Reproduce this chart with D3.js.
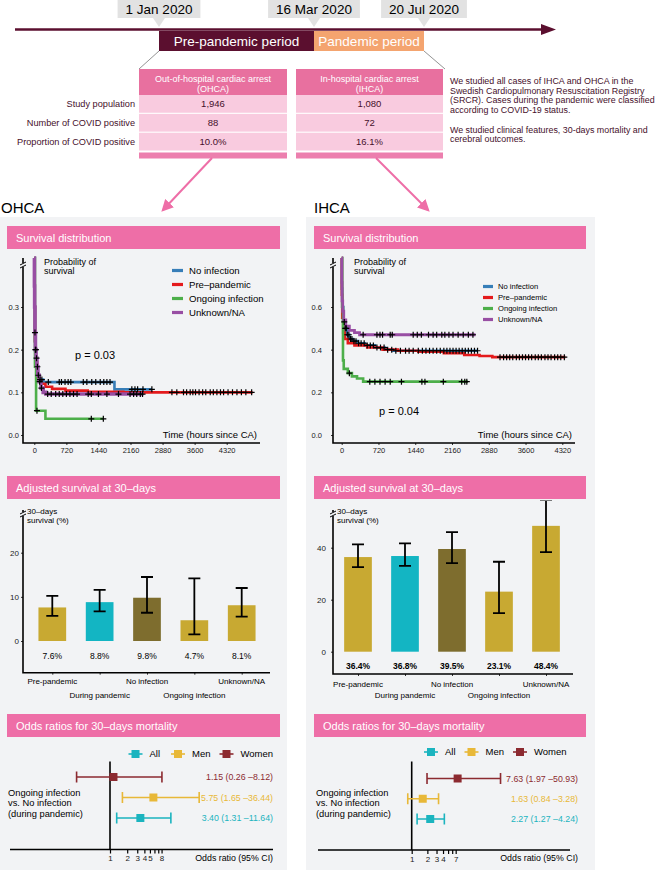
<!DOCTYPE html>
<html>
<head>
<meta charset="utf-8">
<script src="https://cdn.jsdelivr.net/npm/d3@7/dist/d3.min.js"></script>
<style>
  body { margin: 0; background: #fff; }
  svg { font-family: "Liberation Sans", Arial, Helvetica, sans-serif; display: block; }
</style>
</head>
<body>
<svg id="chart" width="660" height="873"></svg>
<script>
// ---------- data ----------
const dates = ["1 Jan 2020", "16 Mar 2020", "20 Jul 2020"];
const periods = ["Pre-pandemic period", "Pandemic period"];
const rowLabels = ["Study population", "Number of COVID positive", "Proportion of COVID positive"];
const ohcaHeader = ["Out-of-hospital cardiac arrest", "(OHCA)"];
const ihcaHeader = ["In-hospital cardiac arrest", "(IHCA)"];
const ohcaCounts = ["1,946", "88", "10.0%"];
const ihcaCounts = ["1,080", "72", "16.1%"];
const studyText = [
  "We studied all cases of IHCA and OHCA in the",
  "Swedish Cardiopulmonary Resuscitation Registry",
  "(SRCR). Cases during the pandemic were classified",
  "according to COVID-19 status.",
  "",
  "We studied clinical features, 30-days mortality and",
  "cerebral outcomes."
];

const survGroups = ["No infection", "Pre\u2013pandemic", "Ongoing infection", "Unknown/NA"];
const timeTicks = [0, 720, 1440, 2160, 2880, 3600, 4320];

// survival curves, [hours since CA, probability]
const ohcaNoInf = [[0,1],[3,0.5],[8,0.3],[15,0.22],[30,0.18],[50,0.155],[80,0.14],[120,0.13],[200,0.124],[1800,0.107],[2640,0.107]];
const ohcaPre = [[0,1],[3,0.5],[8,0.3],[15,0.22],[30,0.17],[60,0.14],[100,0.128],[160,0.12],[250,0.113],[400,0.108],[700,0.104],[1200,0.101],[2000,0.1],[4900,0.1]];
const ohcaOngoing = [[0,1],[15,0.16],[40,0.057],[250,0.038],[1550,0.038]];
const ohcaUnknown = [[0,1],[3,0.6],[8,0.3],[15,0.24],[25,0.2],[40,0.18],[60,0.16],[80,0.14],[110,0.125],[150,0.11],[200,0.1],[260,0.096],[2450,0.096]];

const ohcaNoInfCens = [130, 170, 315, 560, 610, 690, 760, 820, 1100, 1180, 1290, 1380, 1480, 1560, 1630, 1700, 2190, 2260, 2320, 2440, 2640];
const ohcaPreCens = [3090, 3200, 3350, 3420, 3500, 3560, 3620, 3700, 3780, 3850, 3950, 4020, 4100, 4180, 4250, 4350, 4450, 4550, 4650, 4750, 4880];
const ohcaOngoingCens = [60, 1280, 1550];
const ohcaUnknownCens = [15, 25, 35, 50, 70, 90, 120, 160, 300, 380, 480, 560, 640, 720, 800, 880, 960, 1210, 1280, 1440, 1630, 1890, 2150, 2230, 2300, 2380, 2430];

const ihcaNoInf = [[0,1],[3,0.75],[10,0.6],[30,0.53],[60,0.5],[100,0.47],[150,0.45],[220,0.44],[320,0.43],[450,0.42],[650,0.41],[850,0.4],[1000,0.395],[2660,0.395]];
const ihcaPre = [[0,1],[3,0.7],[10,0.55],[30,0.48],[60,0.45],[120,0.43],[250,0.42],[500,0.41],[800,0.4],[1100,0.395],[1500,0.39],[2000,0.383],[2400,0.375],[2700,0.37],[2950,0.365],[4380,0.365]];
const ihcaOngoing = [[0,1],[10,0.6],[25,0.35],[40,0.31],[120,0.29],[200,0.275],[300,0.265],[420,0.25],[2470,0.25]];
const ihcaUnknown = [[0,1],[3,0.8],[8,0.65],[20,0.58],[40,0.54],[80,0.51],[150,0.49],[250,0.48],[350,0.47],[2620,0.47]];

const ihcaNoInfCens = [50, 70, 90, 110, 140, 170, 200, 240, 280, 330, 380, 440, 500, 560, 620, 690, 760, 830, 900, 980, 1060, 1150, 1250, 1320, 1400, 1500, 1580, 1650, 1720, 1790, 1860, 1930, 2000, 2060, 2120, 2180, 2240, 2300, 2360, 2420, 2480, 2540, 2600, 2660];
const ihcaPreCens = [3100, 3170, 3230, 3290, 3350, 3420, 3480, 3540, 3600, 3660, 3720, 3790, 3850, 3910, 3980, 4040, 4100, 4170, 4230, 4290, 4360];
const ihcaOngoingCens = [150, 550, 650, 750, 850, 950, 1170, 1570, 1630, 1990, 2350, 2410, 2450];
const ihcaUnknownCens = [420, 690, 750, 800, 950, 990, 1400, 1480, 1560, 1700, 1790, 1860, 1960, 2020, 2100, 2180, 2280, 2380, 2480, 2570];

// adjusted 30-day survival (%)
const barCats = ["Pre-pandemic", "During pandemic", "No infection", "Ongoing infection", "Unknown/NA"];
const ohcaBar = [7.6, 8.8, 9.8, 4.7, 8.1];
const ohcaBarLo = [5.7, 6.7, 6.4, 1.5, 5.5];
const ohcaBarHi = [10.2, 11.6, 14.5, 14.2, 12.0];
const ihcaBar = [36.4, 36.8, 39.5, 23.1, 48.4];
const ihcaBarLo = [32.5, 33.0, 34.1, 14.8, 38.3];
const ihcaBarHi = [41.3, 41.7, 46.0, 34.6, 58.3];

// odds ratios for 30-day mortality
const forestGroups = ["Women", "Men", "All"];
const ohcaOR = [1.15, 5.75, 3.40];
const ohcaORlo = [0.26, 1.65, 1.31];
const ohcaORhi = [8.12, 36.44, 11.64];
const ihcaOR = [7.63, 1.63, 2.27];
const ihcaORlo = [1.97, 0.84, 1.27];
const ihcaORhi = [50.93, 3.28, 4.24];

// ---------- styles ----------
const svg = d3.select("#chart");
const maroon = "#5b0f2f";
const darkText = "#46102b";
const pink = "#ee6ea7";
const panelBg = "#f2f3f5";
const survColors = ["#377eb8", "#e41a1c", "#4daf4a", "#984ea3"];
const barColors = ["#c8a932", "#13b5c3", "#7e6d2e", "#c8a932", "#c8a932"];
const forestColors = { Women: "#8c2a30", Men: "#e8b838", All: "#1bb4bf" };

// ---------- timeline ----------
const dateX = d3.scaleOrdinal().domain(dates).range([159, 314, 424]);

svg.append("line")
   .attr("x1", 15).attr("x2", 543).attr("y1", 29.5).attr("y2", 29.5)
   .attr("stroke", maroon).attr("stroke-width", 2.5);
svg.append("path").attr("d", "M541,24L556,29.5L541,35Z").attr("fill", maroon);

dates.forEach(d => {
  const cx = dateX(d);
  const box = svg.append("rect").attr("y", 0).attr("height", 18).attr("fill", "#e2e2e2");
  svg.append("path").attr("d", `M${cx - 6},18L${cx + 6},18L${cx},27Z`).attr("fill", "#e2e2e2");
  const t = svg.append("text")
     .attr("x", cx).attr("y", 14)
     .attr("text-anchor", "middle")
     .attr("font-size", "13.5px")
     .text(d);
  const w = t.node().getComputedTextLength() + 16;
  box.attr("x", cx - w / 2).attr("width", w);
});

const periodFill = ["#5b0f2f", "#f4a46f"];
periods.forEach((p, i) => {
  const x0 = dateX(dates[i]), x1 = dateX(dates[i + 1]);
  svg.append("rect").attr("x", x0).attr("y", 31).attr("width", x1 - x0).attr("height", 20).attr("fill", periodFill[i]);
  svg.append("text")
     .attr("x", (x0 + x1) / 2).attr("y", 46)
     .attr("text-anchor", "middle")
     .attr("font-size", "13.5px")
     .attr("fill", "#fff")
     .text(p);
});

svg.append("line").attr("x1", 159).attr("y1", 51).attr("x2", 139).attr("y2", 69).attr("stroke", "#777").attr("stroke-width", 0.8);
svg.append("line").attr("x1", 424).attr("y1", 51).attr("x2", 445).attr("y2", 69).attr("stroke", "#777").attr("stroke-width", 0.8);

// ---------- table ----------
const rowY = d3.scaleBand().domain(rowLabels).range([95, 150.5]).paddingInner(0.06);

function drawColumn(x0, w, header, values) {
  svg.append("rect").attr("x", x0).attr("y", 69).attr("width", w).attr("height", 26).attr("fill", "#e8709f");
  header.forEach((h, i) => {
    svg.append("text")
       .attr("x", x0 + w / 2).attr("y", 82 + i * 10)
       .attr("text-anchor", "middle")
       .attr("font-size", "9px")
       .attr("fill", "#fff")
       .text(h);
  });
  rowLabels.forEach((r, i) => {
    svg.append("rect").attr("x", x0).attr("y", rowY(r)).attr("width", w).attr("height", rowY.bandwidth()).attr("fill", "#f9cbdf");
    svg.append("text")
       .attr("x", x0 + w / 2).attr("y", rowY(r) + rowY.bandwidth() / 2 + 3.3)
       .attr("text-anchor", "middle")
       .attr("font-size", "9.5px")
       .attr("fill", darkText)
       .text(values[i]);
  });
  svg.append("rect").attr("x", x0).attr("y", 152.5).attr("width", w).attr("height", 6).attr("fill", "#ec7fae");
}
drawColumn(139, 148, ohcaHeader, ohcaCounts);
drawColumn(296, 147, ihcaHeader, ihcaCounts);

rowLabels.forEach(r => {
  svg.append("text")
     .attr("x", 135).attr("y", rowY(r) + rowY.bandwidth() / 2 + 3.3)
     .attr("text-anchor", "end")
     .attr("font-size", "9.2px")
     .attr("fill", darkText)
     .text(r);
});

studyText.forEach((s, i) => {
  svg.append("text")
     .attr("x", 450).attr("y", 84 + i * 9.7)
     .attr("font-size", "8.9px")
     .attr("fill", darkText)
     .text(s);
});

// pink arrows
const defs = svg.append("defs");
defs.append("marker")
    .attr("id", "arr").attr("viewBox", "0 0 10 10")
    .attr("refX", 8).attr("refY", 5)
    .attr("markerWidth", 6).attr("markerHeight", 6)
    .attr("orient", "auto")
  .append("path").attr("d", "M0,0L10,5L0,10Z").attr("fill", pink);
svg.append("line").attr("x1", 212).attr("y1", 158).attr("x2", 163).attr("y2", 210)
   .attr("stroke", pink).attr("stroke-width", 2).attr("marker-end", "url(#arr)");
svg.append("line").attr("x1", 376).attr("y1", 158).attr("x2", 428).attr("y2", 210)
   .attr("stroke", pink).attr("stroke-width", 2).attr("marker-end", "url(#arr)");

// ---------- panels ----------
svg.append("text").attr("x", 1).attr("y", 213).attr("font-size", "15px").text("OHCA");
svg.append("text").attr("x", 314).attr("y", 213).attr("font-size", "15px").text("IHCA");
svg.append("rect").attr("x", 0).attr("y", 217).attr("width", 287).attr("height", 653).attr("fill", panelBg);
svg.append("rect").attr("x", 306).attr("y", 217).attr("width", 289).attr("height", 653).attr("fill", panelBg);

function header(x0, w, y0, label) {
  svg.append("rect").attr("x", x0).attr("y", y0).attr("width", w).attr("height", 23).attr("fill", pink);
  svg.append("text")
     .attr("x", x0 + 9).attr("y", y0 + 15.5)
     .attr("font-size", "11px")
     .attr("fill", "#fff")
     .text(label);
}
[[7, 273], [314, 272]].forEach(([x0, w]) => {
  header(x0, w, 226, "Survival distribution");
  header(x0, w, 476, "Adjusted survival at 30\u2013days");
  header(x0, w, 714, "Odds ratios for 30\u2013days mortality");
});

function styleAxis(g, fs) {
  g.attr("font-family", null).attr("font-size", fs);
  g.select(".domain").remove();
  g.selectAll(".tick line").attr("stroke", "#333");
  g.selectAll(".tick text").attr("fill", "#222");
}

function axisBreak(x, y) {
  svg.append("rect").attr("x", x - 3).attr("y", y - 2).attr("width", 6).attr("height", 4).attr("fill", panelBg);
  svg.append("path").attr("d", `M${x - 3},${y}L${x + 3},${y - 3}M${x - 3},${y + 3}L${x + 3},${y}`)
     .attr("stroke", "#000").attr("stroke-width", 1).attr("fill", "none");
}

// ---------- survival ----------
function drawSurv(o) {
  const x = d3.scaleLinear().domain([0, 4320]).range(o.xRange);
  const y = d3.scaleLinear().domain(o.yDomain).range([435, 307, 258]);
  const line = d3.line().x(d => x(d[0])).y(d => y(d[1])).curve(d3.curveStepAfter);
  const g = svg.append("g");

  g.append("g").attr("transform", `translate(${o.axisX},0)`)
   .call(d3.axisLeft(y).tickValues(o.yTicks).tickFormat(d3.format(".1f")).tickSize(2).tickPadding(o.yPad))
   .call(a => styleAxis(a, 7.5));
  g.append("g").attr("transform", "translate(0,443)")
   .call(d3.axisBottom(x).tickValues(timeTicks).tickFormat(d3.format("d")).tickSize(2).tickPadding(3))
   .call(a => styleAxis(a, 7.5));
  g.append("path").attr("d", `M${o.axisX},258V443H${o.axisEnd}`)
   .attr("fill", "none").attr("stroke", "#000").attr("stroke-width", 1.6);
  axisBreak(o.axisX, 265);

  o.curves.forEach((c, i) => {
    g.append("path").attr("d", line(c))
     .attr("fill", "none")
     .attr("stroke", survColors[i])
     .attr("stroke-width", i === 3 ? o.purpleW : 2.6);
  });

  const bis = d3.bisector(d => d[0]).right;
  o.censors.forEach((cs, i) => {
    const c = o.curves[i];
    g.selectAll(null).data(cs).enter().append("path")
     .attr("transform", t => `translate(${x(t)},${y(c[bis(c, t) - 1][1])})`)
     .attr("d", "M-3,0H3M0,-3V3")
     .attr("stroke", "#000").attr("stroke-width", 1.2);
  });

  ["Probability of", "survival"].forEach((s, i) => {
    g.append("text").attr("x", o.axisX + 21).attr("y", 265 + i * 8.5).attr("font-size", "9px").text(s);
  });

  survGroups.forEach((s, i) => {
    const ly = o.legend.y + i * o.legend.dy;
    g.append("rect").attr("x", o.legend.x).attr("y", ly - 1.6).attr("width", o.legend.sw).attr("height", 3.2).attr("fill", survColors[i]);
    g.append("text").attr("x", o.legend.x + o.legend.sw + o.legend.gap).attr("y", ly + o.legend.fs * 0.35)
     .attr("font-size", o.legend.fs + "px").text(s);
  });

  g.append("text").attr("x", o.p[0]).attr("y", o.p[1]).attr("font-size", "11px").text(o.pText);
  g.append("text").attr("x", o.axisEnd - 3).attr("y", 438).attr("text-anchor", "end")
   .attr("font-size", "9.5px").text("Time (hours since CA)");
}

drawSurv({
  xRange: [34.3, 226.7], yDomain: [0, 0.3, 1], yTicks: [0, 0.1, 0.2, 0.3],
  axisX: 23, axisEnd: 260, purpleW: 3.6, yPad: 2,
  curves: [ohcaNoInf, ohcaPre, ohcaOngoing, ohcaUnknown],
  censors: [ohcaNoInfCens, ohcaPreCens, ohcaOngoingCens, ohcaUnknownCens],
  legend: { x: 172, y: 270.5, dy: 14, sw: 11, gap: 6, fs: 9.6 },
  p: [75, 359], pText: "p = 0.03"
});
drawSurv({
  xRange: [341.7, 562.3], yDomain: [0, 0.6, 1], yTicks: [0, 0.2, 0.4, 0.6],
  axisX: 333, axisEnd: 575, purpleW: 2.8, yPad: 9,
  curves: [ihcaNoInf, ihcaPre, ihcaOngoing, ihcaUnknown],
  censors: [ihcaNoInfCens, ihcaPreCens, ihcaOngoingCens, ihcaUnknownCens],
  legend: { x: 483, y: 286.5, dy: 11, sw: 10, gap: 5, fs: 7.6 },
  p: [379, 415], pText: "p = 0.04"
});

// ---------- bars ----------
function drawBars(o) {
  const x = d3.scalePoint().domain(barCats).range(o.xRange);
  const y = d3.scaleLinear().domain([0, o.yMax]).range([o.y0, o.yMaxPx]);
  const g = svg.append("g");
  const bw = 27.7;

  g.append("g").attr("transform", `translate(${o.axisX},0)`)
   .call(d3.axisLeft(y).tickValues(o.yTicks).tickSize(2).tickPadding(o.yPad))
   .call(a => styleAxis(a, 8));
  g.append("g").attr("transform", `translate(0,${o.axisY})`)
   .call(d3.axisBottom(x).tickSize(2).tickFormat(""))
   .call(a => styleAxis(a, 8));
  g.append("path").attr("d", `M${o.axisX},510V${o.axisY}H${o.axisEnd}`)
   .attr("fill", "none").attr("stroke", "#000").attr("stroke-width", 1.6);
  axisBreak(o.axisX, 514);

  g.selectAll("rect.bar").data(barCats).enter().append("rect")
   .attr("class", "bar")
   .attr("x", d => x(d) - bw / 2)
   .attr("y", (d, i) => y(o.vals[i]))
   .attr("width", bw)
   .attr("height", (d, i) => y(0) - y(o.vals[i]))
   .attr("fill", (d, i) => barColors[i]);

  defs.append("clipPath").attr("id", o.clip)
      .append("rect").attr("x", o.axisX).attr("y", 500.5).attr("width", 300).attr("height", 200);
  const eb = g.append("g").attr("clip-path", `url(#${o.clip})`);
  barCats.forEach((d, i) => {
    const cx = x(d);
    eb.append("path")
      .attr("d", `M${cx},${y(o.lo[i])}V${y(o.hi[i])}M${cx - 6},${y(o.lo[i])}H${cx + 6}M${cx - 6},${y(o.hi[i])}H${cx + 6}`)
      .attr("stroke", "#000").attr("stroke-width", 1.8).attr("fill", "none");
    g.append("text").attr("x", cx).attr("y", o.y0 + o.valDy)
     .attr("text-anchor", "middle").attr("font-size", "8.5px")
     .attr("font-weight", o.bold ? "bold" : "normal")
     .text(d3.format(".1f")(o.vals[i]) + "%");
    g.append("text").attr("x", cx).attr("y", i % 2 ? o.lab2 : o.lab1)
     .attr("text-anchor", "middle").attr("font-size", "8px").text(d);
  });

  ["30\u2013days", "survival (%)"].forEach((s, i) => {
    g.append("text").attr("x", o.axisX + 4).attr("y", 514 + i * 9).attr("font-size", "8px").text(s);
  });
}

drawBars({
  xRange: [52.3, 241.7], yMax: 20, y0: 641, yMaxPx: 552.7, yTicks: [0, 10, 20],
  axisX: 23, axisY: 672.7, axisEnd: 270, yPad: 2,
  vals: ohcaBar, lo: ohcaBarLo, hi: ohcaBarHi, clip: "clipO",
  valDy: 18, lab1: 684, lab2: 698, bold: false
});
drawBars({
  xRange: [358, 546], yMax: 40, y0: 651.7, yMaxPx: 547.7, yTicks: [0, 20, 40],
  axisX: 333, axisY: 674, axisEnd: 573, yPad: 5,
  vals: ihcaBar, lo: ihcaBarLo, hi: ihcaBarHi, clip: "clipI",
  valDy: 17, lab1: 687, lab2: 697.5, bold: true
});

// ---------- forest ----------
function drawForest(o) {
  const x = d3.scaleLog().domain([1, 8]).range([o.x1, o.x1 + o.k * Math.log(8)]);
  const y = d3.scalePoint().domain(forestGroups).range(o.yRange);
  const g = svg.append("g");

  g.append("g").attr("transform", `translate(0,${o.axisY})`)
   .call(d3.axisBottom(x).tickValues([1, 2, 3, 4, 5, 6, 7, 8].filter(v => v <= o.tickMax))
      .tickSize(4).tickPadding(2)
      .tickFormat(d => o.labels.includes(d) ? d : ""))
   .call(a => styleAxis(a, 8));
  g.selectAll(".tick line").attr("stroke-width", 1.2).attr("stroke", "#000");
  g.append("line").attr("x1", o.axisL).attr("x2", o.axisR).attr("y1", o.axisY).attr("y2", o.axisY)
   .attr("stroke", "#000").attr("stroke-width", 1.6);
  g.append("line").attr("x1", x(1)).attr("x2", x(1)).attr("y1", 761.5).attr("y2", o.axisY)
   .attr("stroke", "#000").attr("stroke-width", 1.6);

  forestGroups.forEach((grp, i) => {
    const cy = y(grp), col = forestColors[grp];
    const xl = x(o.lo[i]), xh = x(o.hi[i]), xm = x(o.or[i]);
    g.append("path").attr("d", `M${xl},${cy}H${xh}M${xl},${cy - 5.5}V${cy + 5.5}M${xh},${cy - 5.5}V${cy + 5.5}`)
     .attr("stroke", col).attr("stroke-width", 1.6).attr("fill", "none");
    g.append("rect").attr("x", xm - 4).attr("y", cy - 4).attr("width", 8).attr("height", 8).attr("fill", col);
    const f = d3.format(".2f");
    g.append("text").attr("x", o.textR).attr("y", cy + 3)
     .attr("text-anchor", "end").attr("font-size", "8.8px").attr("fill", col)
     .text(`${f(o.or[i])} (${f(o.lo[i])} \u2013${f(o.hi[i])})`);
  });

  ["Ongoing infection", "vs. No infection", "(during pandemic)"].forEach((s, i) => {
    g.append("text").attr("x", o.labelX).attr("y", 795.5 + i * 10.6).attr("font-size", "9.3px").text(s);
  });

  ["All", "Men", "Women"].forEach((grp, i) => {
    const cx = o.legX[i], col = forestColors[grp];
    g.append("line").attr("x1", cx - 7).attr("x2", cx + 7).attr("y1", o.legY).attr("y2", o.legY)
     .attr("stroke", col).attr("stroke-width", 1.6);
    g.append("rect").attr("x", cx - 4).attr("y", o.legY - 4).attr("width", 8).attr("height", 8).attr("fill", col);
    g.append("text").attr("x", cx + 14).attr("y", o.legY + 3.3).attr("font-size", "9.5px").text(grp);
  });

  g.append("text").attr("x", o.textR).attr("y", 861).attr("text-anchor", "end")
   .attr("font-size", "8.8px").text("Odds ratio (95% CI)");
}

drawForest({
  x1: 110, k: 24.8, axisY: 849.5, axisL: 10, axisR: 273, tickMax: 8, labels: [1, 2, 3, 4, 5, 8],
  yRange: [777, 818], or: ohcaOR, lo: ohcaORlo, hi: ohcaORhi, textR: 273,
  labelX: 8, legX: [135.5, 178, 226.5], legY: 754
});
drawForest({
  x1: 411.7, k: 22.6, axisY: 850, axisL: 318, axisR: 570, tickMax: 7, labels: [1, 2, 3, 4, 7],
  yRange: [778.5, 819], or: ihcaOR, lo: ihcaORlo, hi: ihcaORhi, textR: 578,
  labelX: 316, legX: [431, 471.5, 520], legY: 752
});
</script>
</body>
</html>
